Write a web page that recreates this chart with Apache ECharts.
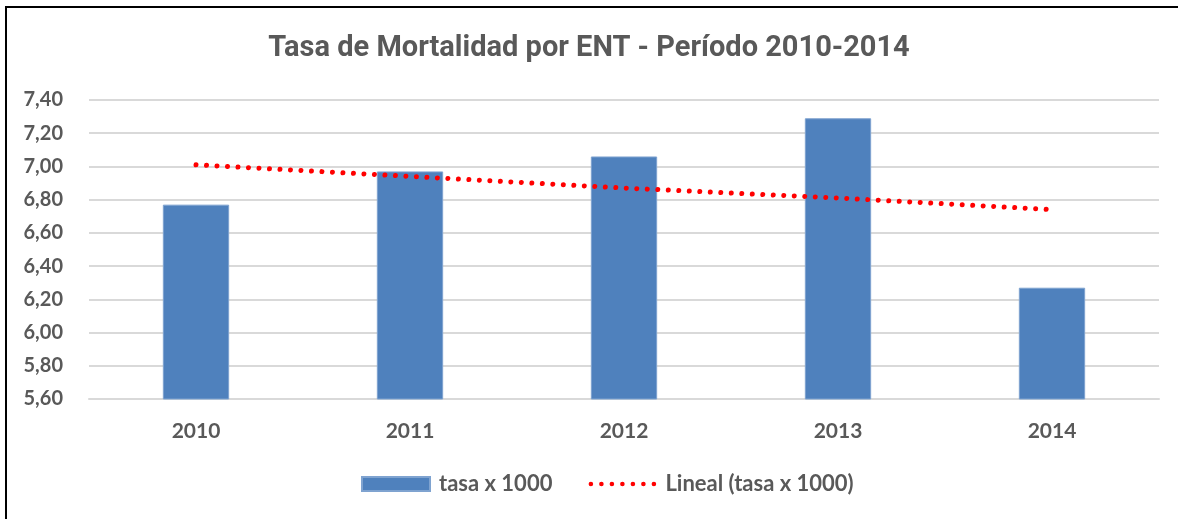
<!DOCTYPE html>
<html>
<head>
<meta charset="utf-8">
<script src="https://cdn.jsdelivr.net/npm/echarts@6/dist/echarts.min.js"></script>
<style>
  html, body { margin: 0; padding: 0; background: #fff; }
  .frame {
    position: absolute;
    left: 5px;
    top: 6px;
    width: 1180px;
    height: 520px;
    border-top: 2px solid #000;
    border-left: 2px solid #000;
  }
  #mortalidadChart {
    position: absolute;
    left: 0;
    top: 0;
    width: 1178px;
    height: 519px;
  }
</style>
</head>
<body>
<div class="frame"></div>
<div id="mortalidadChart"></div>
<script>
// datos
const years = ['2010', '2011', '2012', '2013', '2014']
const tasa = [6.77, 6.97, 7.06, 7.29, 6.27]
const lineal = [7.01, 6.94, 6.87, 6.81, 6.74]
const yMin = 5.6
const yMax = 7.4
const yStep = 0.2

const textColor = '#595959'
const labelFont = 'Lato, "Open Sans", sans-serif'

// icono de leyenda: fila de puntos (los dos trazos minimos fijan la caja 68x14)
function dotsIcon () {
  let p = 'M0 0 L0.01 0 L0 0.01 Z M68 14 L67.99 14 L68 13.99 Z '
  const r = 2.3
  for (let i = 0; i < 7; i++) {
    const cx = 2.5 + i * 10.5
    p += 'M' + (cx - r) + ' 7 a' + r + ' ' + r + ' 0 1 0 ' + (2 * r) + ' 0 a' + r + ' ' + r + ' 0 1 0 ' + (-2 * r) + ' 0 Z '
  }
  return 'path://' + p
}

const myChart = echarts.init(document.getElementById('mortalidadChart'))
myChart.setOption({
  animation: false,
  title: {
    text: 'Tasa de Mortalidad por ENT - Período 2010-2014',
    left: 'center',
    top: 29,
    textStyle: {
      color: textColor,
      fontFamily: 'Roboto, "Liberation Sans", sans-serif',
      fontWeight: 'bold',
      fontSize: 29
    }
  },
  legend: {
    bottom: 19,
    left: 356,
    itemGap: 36,
    itemWidth: 68,
    itemHeight: 14,
    textStyle: {
      color: textColor,
      fontFamily: labelFont,
      fontWeight: 'bold',
      fontSize: 22,
      padding: [0, 0, 0, 4]
    },
    data: [
      { name: 'tasa x 1000', icon: 'rect' },
      { name: 'Lineal (tasa x 1000)', icon: dotsIcon(), itemStyle: { color: '#ff0000' } }
    ]
  },
  grid: {
    left: 89,
    right: 19,
    top: 100,
    bottom: 120
  },
  xAxis: {
    type: 'category',
    data: years,
    axisTick: { show: false },
    axisLine: { lineStyle: { color: '#d9d9d9', width: 2 } },
    axisLabel: {
      color: textColor,
      fontFamily: labelFont,
      fontWeight: 'bold',
      fontSize: 21,
      margin: 22
    }
  },
  yAxis: {
    type: 'value',
    min: yMin,
    max: yMax,
    interval: yStep,
    axisLine: { show: false },
    axisTick: { show: false },
    splitLine: { lineStyle: { color: '#d9d9d9', width: 2 } },
    axisLabel: {
      color: textColor,
      fontFamily: labelFont,
      fontWeight: 'bold',
      fontSize: 20,
      margin: 26,
      formatter: v => v.toFixed(2).replace('.', ',')
    }
  },
  series: [
    {
      name: 'tasa x 1000',
      type: 'bar',
      data: tasa,
      barWidth: '31%',
      itemStyle: {
        color: '#4F81BD',
        borderColor: '#7fa3d0',
        borderWidth: 1
      }
    },
    {
      name: 'Lineal (tasa x 1000)',
      type: 'line',
      data: lineal,
      symbol: 'none',
      itemStyle: { color: '#ff0000' },
      lineStyle: {
        color: '#ff0000',
        width: 5,
        type: [0.01, 10.5],
        cap: 'round'
      }
    }
  ]
})
</script>
</body>
</html>
